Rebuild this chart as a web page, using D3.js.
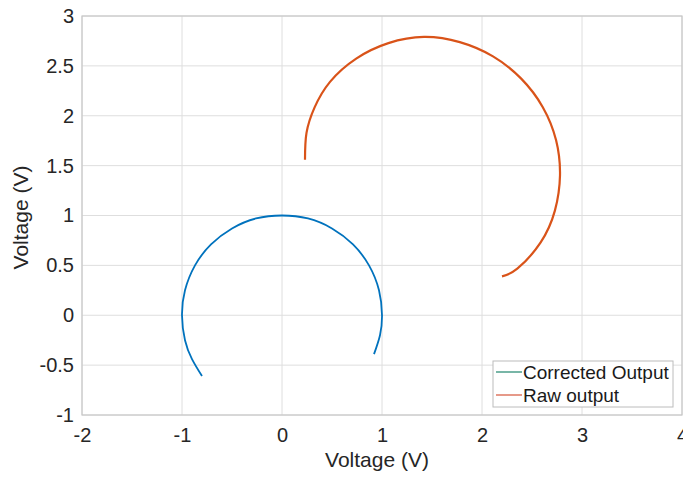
<!DOCTYPE html>
<html><head><meta charset="utf-8">
<script src="https://cdn.jsdelivr.net/npm/d3@7"></script>
<style>body{margin:0;background:#fff}svg{display:block}</style>
</head><body>
<svg id="c" width="683" height="478"></svg>
<script>
const xTicks = [-2,-1,0,1,2,3,4];
const yTicks = [-1,-0.5,0,0.5,1,1.5,2,2.5,3];
const seriesNames = ["Corrected Output","Raw output"];
const correctedX = [-0.80,-0.90,-0.97,-1.00,-0.97,-0.87,-0.71,-0.50,-0.26,0.00,0.26,0.50,0.71,0.87,0.97,1.00,0.98,0.92];
const correctedY = [-0.61,-0.44,-0.25,0.00,0.25,0.50,0.71,0.87,0.97,1.00,0.97,0.87,0.71,0.50,0.25,0.00,-0.20,-0.39];
const rawX = [0.23,0.245,0.326,0.48,0.742,1.064,1.42,1.778,2.11,2.392,2.608,2.741,2.78,2.729,2.585,2.353,2.20];
const rawY = [1.56,1.828,2.084,2.34,2.573,2.728,2.79,2.738,2.595,2.372,2.086,1.754,1.40,1.049,0.728,0.467,0.39];

const svg = d3.select("#c");
const L=82,R=682,T=16,B=415;
const x = d3.scaleLinear().domain([-2,4]).range([L,R]);
const y = d3.scaleLinear().domain([-1,3]).range([B,T]);
const font = "'Liberation Sans', Arial, sans-serif";

// grid
svg.append("g").selectAll("line").data(xTicks).join("line")
  .attr("x1",d=>x(d)).attr("x2",d=>x(d)).attr("y1",T).attr("y2",B)
  .attr("stroke","#dedede").attr("stroke-width",1);
svg.append("g").selectAll("line").data(yTicks).join("line")
  .attr("x1",L).attr("x2",R).attr("y1",d=>y(d)).attr("y2",d=>y(d))
  .attr("stroke","#dedede").attr("stroke-width",1);
// frame
svg.append("rect").attr("x",L).attr("y",T).attr("width",R-L).attr("height",B-T)
  .attr("fill","none").attr("stroke","#c8c8c8").attr("stroke-width",1.2);

// axes
const xAxis = svg.append("g").attr("transform",`translate(0,${B})`)
  .call(d3.axisBottom(x).tickValues(xTicks).tickSize(0).tickPadding(13).tickFormat(d=>String(d)));
const yAxis = svg.append("g").attr("transform",`translate(${L},0)`)
  .call(d3.axisLeft(y).tickValues(yTicks).tickSize(0).tickPadding(8).tickFormat(d=>String(d)));
[xAxis,yAxis].forEach(a=>{
  a.select(".domain").remove();
  a.selectAll("text").attr("font-family",font).attr("font-size",20).attr("fill","#262626");
});

svg.append("text").attr("x",(L+R)/2-5).attr("y",467).attr("text-anchor","middle")
  .attr("font-family",font).attr("font-size",21).attr("fill","#262626").text("Voltage (V)");
svg.append("text").attr("transform",`translate(28,${(T+B)/2+2}) rotate(-90)`).attr("text-anchor","middle")
  .attr("font-family",font).attr("font-size",21).attr("fill","#262626").text("Voltage (V)");

const line = d3.line().x(d=>x(d[0])).y(d=>y(d[1])).curve(d3.curveNatural);
const corrected = correctedX.map((v,i)=>[v,correctedY[i]]);
const raw = rawX.map((v,i)=>[v,rawY[i]]);
svg.append("path").attr("d",line(raw)).attr("fill","none").attr("stroke","#d95319").attr("stroke-width",2.2);
svg.append("path").attr("d",line(corrected)).attr("fill","none").attr("stroke","#0072bd").attr("stroke-width",1.8);

// legend
const lg = svg.append("g");
lg.append("rect").attr("x",493).attr("y",361).attr("width",180).attr("height",46)
  .attr("fill","#fff").attr("stroke","#bcbcbc").attr("stroke-width",1);
const legColors = ["#2f8f78","#d9624a"];
seriesNames.forEach((n,i)=>{
  const yy = 372 + i*23;
  lg.append("line").attr("x1",496).attr("x2",522).attr("y1",yy).attr("y2",yy)
    .attr("stroke",legColors[i]).attr("stroke-width",1.3);
  lg.append("text").attr("x",523).attr("y",yy+7).attr("font-family",font).attr("font-size",19)
    .attr("fill","#1a1a1a").text(n);
});
</script>
</body></html>
